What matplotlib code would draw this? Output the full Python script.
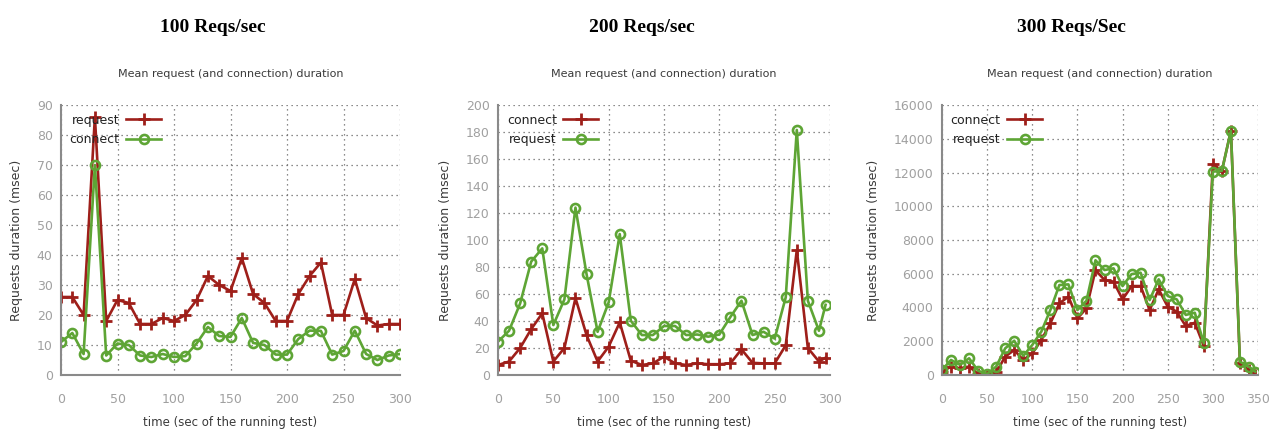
import matplotlib.pyplot as plt
import numpy as np

# panel 1: 100 req/s
t1 = list(range(0, 301, 10))
req1 = [26, 26, 20, 86, 18, 25, 24, 17, 17, 19, 18, 20, 25, 33, 30, 28, 39, 27, 24, 18,
        18, 27, 33, 37.5, 20, 20, 32, 19, 16.5, 17, 17]
con1 = [11, 14, 7, 70, 6.5, 10.5, 10, 6.5, 6, 7, 6, 6.3, 10.5, 16, 13, 12.7, 19, 10.7, 10, 6.8,
        6.8, 12, 14.8, 14.7, 6.8, 8, 14.8, 7, 5, 6.5, 7]

# panel 2: 200 req/s
t2 = list(range(0, 291, 10)) + [296]
con2 = [7.4, 10, 20, 34, 45.7, 10, 20, 57, 29.6, 10, 21, 39, 10.6, 7.4, 8.6, 13.6, 8.6, 7.4,
        8.6, 8, 8, 8.6, 19, 9, 8.6, 8.6, 22, 92.6, 20, 10, 12.8]
req2 = [24.7, 32.8, 53, 84, 93.8, 37, 56, 124, 74.8, 32, 53.8, 104.4, 40.2, 29.6, 29.6, 36.3,
        36.3, 29.6, 30, 28.4, 30, 43, 55, 29.6, 32, 27, 57.5, 181.5, 55, 32.8, 52]

# panel 3: 300 req/s
t3 = list(range(0, 341, 10)) + [347]
con3 = [200, 500, 400, 500, 60, 0, 150, 1090, 1480, 890, 1280, 2070, 3060, 4250, 4640, 3360,
        3950, 6220, 5630, 5530, 4480, 5270, 5270, 3850, 5080, 4050, 3750, 2900, 3100, 1720,
        12500, 12100, 14480, 690, 300, 0]
req3 = [300, 890, 600, 990, 250, 60, 500, 1580, 2030, 1130, 1780, 2570, 3850, 5330, 5370, 3850,
        4400, 6800, 6220, 6320, 5270, 5980, 6060, 4440, 5670, 4680, 4480, 3560, 3690, 1880,
        12050, 12100, 14480, 790, 490, 200]

titles = ["100 Reqs/sec", "200 Reqs/sec", "300 Reqs/Sec"]

RED = "#9e1f1a"
GREEN = "#5ea535"
TICKC = "#a0a0a0"
TEXTC = "#3a3a3a"

fig = plt.figure(figsize=(12.83, 4.34), dpi=100)
W, H = 1283, 434


def make_ax(left, right, top=105, bottom=375):
    return fig.add_axes([left / W, (H - bottom) / H, (right - left) / W, (bottom - top) / H])


def style_ax(ax, ymax, ystep, xmax):
    ax.set_xlim(0, xmax)
    ax.set_ylim(0, ymax)
    ax.set_xticks(np.arange(0, xmax + 1, 50))
    ax.set_yticks(np.arange(0, ymax + 1, ystep))
    ax.grid(True, linestyle=(0, (1, 3)), color="#666666", linewidth=0.9)
    ax.set_axisbelow(True)
    for s in ["top", "right"]:
        ax.spines[s].set_visible(False)
    for s in ["left", "bottom"]:
        ax.spines[s].set_color("#8a8a8a")
        ax.spines[s].set_linewidth(1.5)
    ax.tick_params(colors=TICKC, labelsize=9, length=0)
    ax.tick_params(axis="x", pad=13)
    ax.tick_params(axis="y", pad=6)
    ax.set_ylabel("Requests duration (msec)", color=TEXTC, fontsize=9, labelpad=10)
    ax.set_xlabel("time (sec of the running test)", color=TEXTC, fontsize=8.5, labelpad=7)
    ax.set_title("Mean request (and connection) duration", color=TEXTC, fontsize=8, pad=20)


def red_line(ax, x, y, label):
    ax.plot(x, y, color=RED, lw=1.9, marker="+", ms=8, mew=2.0, label=label)


def green_line(ax, x, y, label):
    ax.plot(x, y, color=GREEN, lw=1.9, marker="o", ms=6.5, mew=1.9, mfc="none", label=label)


ax1 = make_ax(61, 400)
red_line(ax1, t1, req1, "request")
green_line(ax1, t1, con1, "connect")
style_ax(ax1, 90, 10, 300)

ax2 = make_ax(498, 830)
red_line(ax2, t2, con2, "connect")
green_line(ax2, t2, req2, "request")
style_ax(ax2, 200, 20, 300)

ax3 = make_ax(942, 1258)
red_line(ax3, t3, con3, "connect")
green_line(ax3, t3, req3, "request")
style_ax(ax3, 16000, 2000, 350)

for ax in [ax1, ax2, ax3]:
    leg = ax.legend(loc="upper left", frameon=False, markerfirst=False, fontsize=9,
                    handlelength=2.8, borderaxespad=0.3, labelspacing=0.5,
                    handletextpad=0.5, borderpad=0.4)
    for txt in leg.get_texts():
        txt.set_color("#222222")

for cx, title in zip([213, 642, 1071], titles):
    fig.text(cx / W, 1 - 27 / H, title, ha="center", va="center", fontsize=14,
             fontweight="bold", family="Liberation Serif")

fig.savefig("out.png", dpi=100, facecolor="white")
